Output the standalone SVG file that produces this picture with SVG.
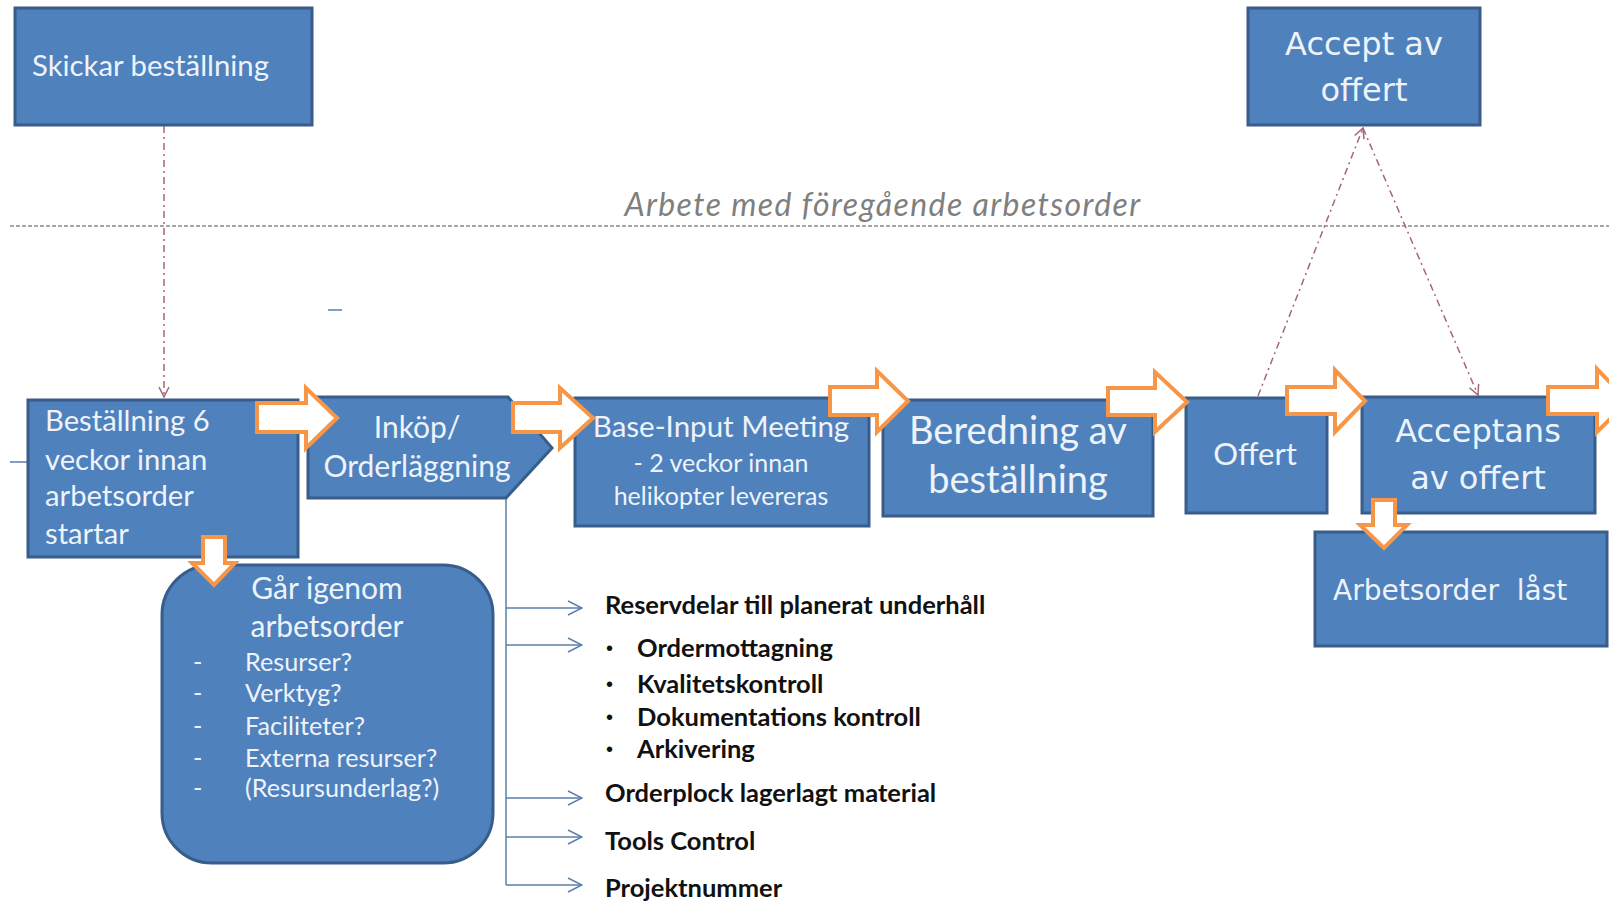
<svg xmlns="http://www.w3.org/2000/svg" width="1609" height="906" viewBox="0 0 1609 906">
  <defs>
    <style>
      .box { fill: #4f81bd; stroke: #385d8a; stroke-width: 3; }
      .t { font-family: Lato, "Liberation Sans", sans-serif; fill: #eef3fa; }
      .tv { font-family: "DejaVu Sans", Verdana, sans-serif; fill: #eef3fa; }
      .list { font-family: Lato, "Liberation Sans", sans-serif; font-weight: bold; font-size: 25.5px; fill: #111111; }
      .bullet { font-family: "Liberation Sans", sans-serif; font-size: 20px; fill: #111111; }
      .flow { fill: #ffffff; stroke: #f79646; stroke-width: 4; stroke-linejoin: miter; }
      .link { fill: none; stroke: #a8647c; stroke-width: 1.5; stroke-dasharray: 7 4 2 4; }
      .branch { fill: none; stroke: #5b7fa8; stroke-width: 1.5; }
    </style>
    <marker id="openV" viewBox="0 0 12 12" refX="11" refY="6" markerWidth="12" markerHeight="12" markerUnits="userSpaceOnUse" orient="auto">
      <path d="M1,1 L11,6 L1,11" fill="none" stroke="#a8647c" stroke-width="1.5"/>
    </marker>
    <marker id="branchV" viewBox="0 0 16 16" refX="15" refY="8" markerWidth="16" markerHeight="16" markerUnits="userSpaceOnUse" orient="auto">
      <path d="M1,1 L15,8 L1,15" fill="none" stroke="#5b7fa8" stroke-width="1.5"/>
    </marker>
  </defs>

  <rect x="0" y="0" width="1609" height="906" fill="#ffffff"/>

  <!-- timeline separator -->
  <g id="separator">
    <line x1="10" y1="226" x2="1609" y2="226" stroke="#8c8c8c" stroke-width="1.5" stroke-dasharray="4 2"/>
    <text x="883" y="216" text-anchor="middle" font-family="Lato, 'Liberation Sans', sans-serif" font-style="italic" font-size="32" letter-spacing="1.4" fill="#7f7f7f">Arbete med föregående arbetsorder</text>
  </g>

  <!-- stray marks -->
  <g id="marks">
    <line x1="328" y1="310" x2="342" y2="310" stroke="#5b7fa8" stroke-width="1.5"/>
    <line x1="10" y1="462" x2="28" y2="462" stroke="#5b7fa8" stroke-width="1.5"/>
  </g>

  <!-- connectors -->
  <g id="connectors">
    <line class="link" x1="164" y1="126" x2="164" y2="397" marker-end="url(#openV)"/>
    <line class="link" x1="1258" y1="396" x2="1363" y2="128" marker-end="url(#openV)"/>
    <line class="link" x1="1363" y1="128" x2="1478" y2="395" marker-end="url(#openV)"/>
    <line class="branch" x1="506" y1="498" x2="506" y2="885"/>
    <line class="branch" x1="506" y1="608" x2="582" y2="608" marker-end="url(#branchV)"/>
    <line class="branch" x1="506" y1="645" x2="582" y2="645" marker-end="url(#branchV)"/>
    <line class="branch" x1="506" y1="798" x2="582" y2="798" marker-end="url(#branchV)"/>
    <line class="branch" x1="506" y1="837" x2="582" y2="837" marker-end="url(#branchV)"/>
    <line class="branch" x1="506" y1="885" x2="582" y2="885" marker-end="url(#branchV)"/>
  </g>

  <g id="skickar">
    <rect class="box" x="15" y="8" width="297" height="117"/>
    <text class="t" x="32" y="76" font-size="29.3">Skickar beställning</text>
  </g>

  <g id="accept">
    <rect class="box" x="1248" y="8" width="232" height="117"/>
    <text class="tv" x="1364" y="55" font-size="32" text-anchor="middle">Accept av</text>
    <text class="tv" x="1364" y="101" font-size="32" text-anchor="middle">offert</text>
  </g>

  <g id="bestallning">
    <rect class="box" x="28" y="400" width="270" height="157"/>
    <text class="t" x="45" y="431" font-size="29.2">Beställning 6</text>
    <text class="t" x="45" y="470" font-size="29.2">veckor innan</text>
    <text class="t" x="45" y="506" font-size="29.2">arbetsorder</text>
    <text class="t" x="45" y="544" font-size="29.2">startar</text>
  </g>

  <g id="inkop">
    <polygon class="box" points="308,397 508,397 552,448 506,498 308,498"/>
    <text class="t" x="417" y="438" font-size="30" text-anchor="middle">Inköp/</text>
    <text class="t" x="417" y="477" font-size="30" text-anchor="middle">Orderläggning</text>
  </g>

  <g id="base-input">
    <rect class="box" x="575" y="398" width="294" height="128"/>
    <text class="t" x="721" y="437" font-size="29.5" text-anchor="middle">Base-Input Meeting</text>
    <text class="t" x="721" y="472" font-size="25" text-anchor="middle">- 2 veckor  innan</text>
    <text class="t" x="721" y="505" font-size="25" text-anchor="middle">helikopter  levereras</text>
  </g>

  <g id="beredning">
    <rect class="box" x="883" y="400" width="270" height="116"/>
    <text class="t" x="1018" y="444" font-size="38" text-anchor="middle">Beredning av</text>
    <text class="t" x="1018" y="493" font-size="38" text-anchor="middle">beställning</text>
  </g>

  <g id="offert">
    <rect class="box" x="1186" y="398" width="141" height="115"/>
    <text class="t" x="1255" y="465" font-size="31" text-anchor="middle">Offert</text>
  </g>

  <g id="acceptans">
    <rect class="box" x="1362" y="397" width="233" height="116"/>
    <text class="tv" x="1478" y="442" font-size="32" text-anchor="middle">Acceptans</text>
    <text class="tv" x="1478" y="489" font-size="32" text-anchor="middle">av offert</text>
  </g>

  <g id="arbetsorder-last">
    <rect class="box" x="1315" y="532" width="292" height="114"/>
    <text class="tv" x="1333" y="600" font-size="28" xml:space="preserve">Arbetsorder  låst</text>
  </g>

  <g id="gar-igenom">
    <rect class="box" x="162" y="565" width="331" height="298" rx="50" ry="50"/>
    <text class="t" x="327" y="599" font-size="30" text-anchor="middle">Går igenom</text>
    <text class="t" x="327" y="637" font-size="30" text-anchor="middle">arbetsorder</text>
    <g font-size="25.2">
      <text class="t" x="193" y="671">-</text><text class="t" x="245" y="671">Resurser?</text>
      <text class="t" x="193" y="702">-</text><text class="t" x="245" y="702">Verktyg?</text>
      <text class="t" x="193" y="735">-</text><text class="t" x="245" y="735">Faciliteter?</text>
      <text class="t" x="193" y="767">-</text><text class="t" x="245" y="767">Externa resurser?</text>
      <text class="t" x="193" y="797">-</text><text class="t" x="245" y="797">(Resursunderlag?)</text>
    </g>
  </g>

  <g id="delivery-list">
    <text class="list" x="605" y="614">Reservdelar till planerat underhåll</text>
    <text class="bullet" x="606" y="655">•</text><text class="list" x="637" y="657">Ordermottagning</text>
    <text class="bullet" x="606" y="691">•</text><text class="list" x="637" y="693">Kvalitetskontroll</text>
    <text class="bullet" x="606" y="724">•</text><text class="list" x="637" y="726">Dokumentations kontroll</text>
    <text class="bullet" x="606" y="756">•</text><text class="list" x="637" y="758">Arkivering</text>
    <text class="list" x="605" y="802">Orderplock lagerlagt material</text>
    <text class="list" x="605" y="850">Tools Control</text>
    <text class="list" x="605" y="897">Projektnummer</text>
  </g>

  <!-- process-flow block arrows -->
  <g id="flow-arrows">
    <polygon class="flow" points="257,403 306,403 306,388 337,418 306,448 306,432 257,432"/>
    <polygon class="flow" points="513,403 560,403 560,388 593,418 560,448 560,432 513,432"/>
    <polygon class="flow" points="830,387 877,387 877,371 908,401 877,432 877,415 830,415"/>
    <polygon class="flow" points="1108,388 1155,388 1155,372 1187,402 1155,432 1155,415 1108,415"/>
    <polygon class="flow" points="1287,387 1335,387 1335,370 1365,401 1335,432 1335,414 1287,414"/>
    <polygon class="flow" points="1548,387 1597,387 1597,369 1628,401 1597,432 1597,414 1548,414"/>
    <polygon class="flow" points="203,537 225,537 225,563 235,563 214,585 192,563 203,563"/>
    <polygon class="flow" points="1373,500 1395,500 1395,525 1407,525 1384,548 1360,525 1373,525"/>
  </g>
</svg>
